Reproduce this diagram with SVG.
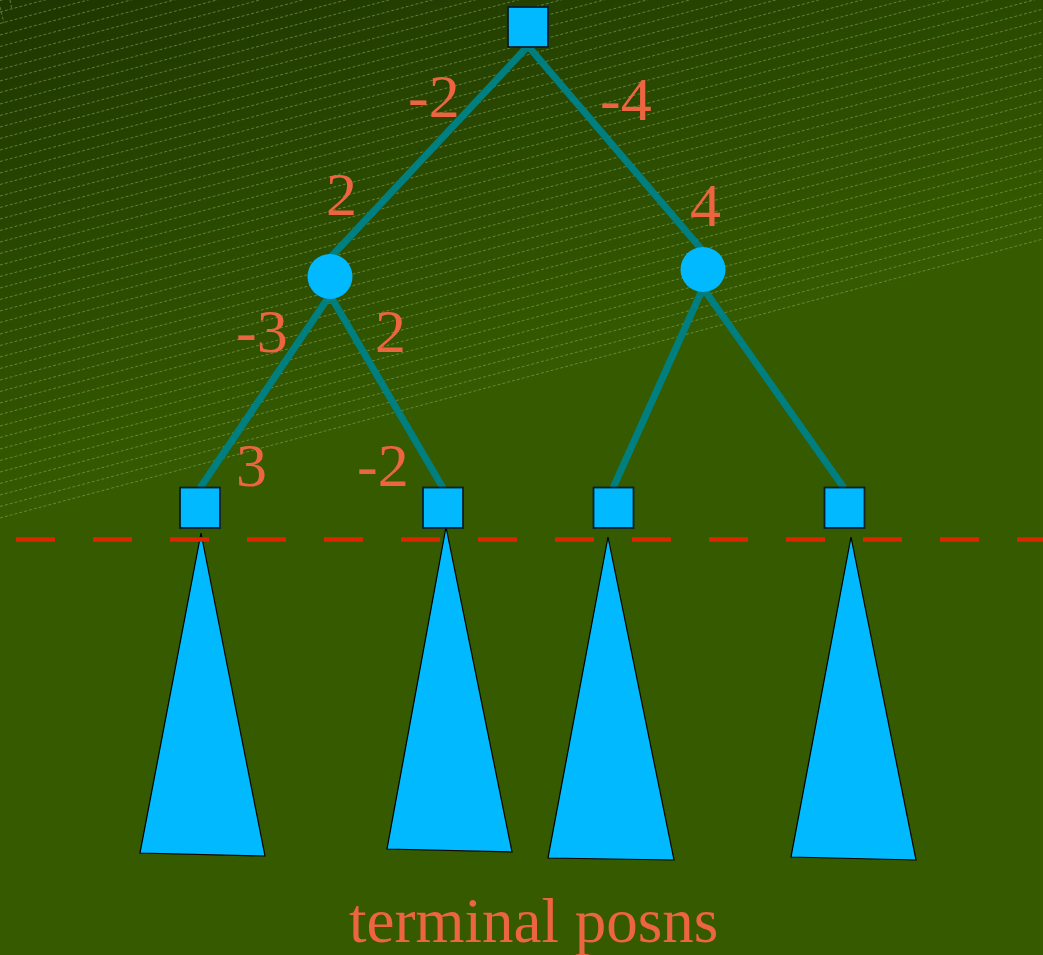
<svg xmlns="http://www.w3.org/2000/svg" width="1043" height="955" viewBox="0 0 1043 955">
<defs>
<linearGradient id="bg" gradientUnits="userSpaceOnUse" x1="0" y1="0" x2="129" y2="483">
<stop offset="0" stop-color="#1e3600"/>
<stop offset="1" stop-color="#355a00"/>
</linearGradient>
<clipPath id="hclip"><polygon points="0,0 1043,0 1043,240 0,519"/></clipPath>
</defs>
<style>
.hatch{stroke:#86a85c;stroke-width:1;stroke-dasharray:3 2;fill:none;opacity:0.6}
.edge{stroke:#007f80;stroke-width:7;fill:none}
.sq{fill:#00b9ff;stroke:#06202c;stroke-width:1.8}
.circ{fill:#00b9ff}
.tri{fill:#00b9ff;stroke:#000;stroke-width:1.2}
.lbl{font-family:"Liberation Serif","Times New Roman",serif;font-size:62px;fill:#ec6440}
</style>
<rect id="background" x="0" y="0" width="1043" height="955" fill="url(#bg)"/>
<g id="hatching" class="hatch" clip-path="url(#hclip)">
<path d="M0,518L1043,239M0,506.5L1043,227.5M0,495L1043,216M0,483.5L1043,204.5M0,472L1043,193M0,460.5L1043,181.5M0,449L1043,170M0,437.5L1043,158.5M0,426L1043,147M0,414.5L1043,135.5M0,403L1043,124M0,391.5L1043,112.5M0,380L1043,101M0,368.5L1043,89.5M0,357L1043,78M0,345.5L1043,66.5M0,334L1043,55M0,322.5L1043,43.5M0,311L1043,32M0,299.5L1043,20.5M0,288L1043,9M0,276.5L1043,-2.5M0,265L1043,-14M0,253.5L1043,-25.5M0,242L1043,-37M0,230.5L1043,-48.5M0,219L1043,-60M0,207.5L1043,-71.5M0,196L1043,-83M0,184.5L1043,-94.5M0,173L1043,-106M0,161.5L1043,-117.5M0,150L1043,-129M0,138.5L1043,-140.5M0,127L1043,-152M0,115.5L1043,-163.5M0,104L1043,-175M0,92.5L1043,-186.5M0,81L1043,-198M0,69.5L1043,-209.5M0,58L1043,-221M0,46.5L1043,-232.5M0,35L1043,-244M0,23.5L1043,-255.5M0,12L1043,-267M0,0.5L1043,-278.5"/>
<path d="M10,0L12,10M0,7L4,23"/>
</g>
<g id="subtrees">
<polygon class="tri" points="201,533 140,853 265,856"/>
<polygon class="tri" points="446,527 387,849 512,852"/>
<polygon class="tri" points="608,537 548,858 674,860"/>
<polygon class="tri" points="851,537 791,857 916,860"/>
</g>
<line id="horizon" x1="16" y1="539.5" x2="1043" y2="539.5" stroke="#dc2600" stroke-width="4.5" stroke-dasharray="39 38"/>
<g id="connectors">
<line class="edge" x1="528" y1="46" x2="330" y2="258"/>
<line class="edge" x1="528" y1="46" x2="703" y2="251"/>
<line class="edge" x1="330" y1="295" x2="200" y2="488"/>
<line class="edge" x1="330" y1="295" x2="443" y2="488"/>
<line class="edge" x1="703" y1="288" x2="613" y2="488"/>
<line class="edge" x1="703" y1="288" x2="844" y2="488"/>
</g>
<g id="root"><rect class="sq" x="508" y="7" width="40" height="40"/></g>
<g id="minL"><circle class="circ" cx="330" cy="276.5" r="22.5"/></g>
<g id="minR"><circle class="circ" cx="703" cy="269.5" r="22.5"/></g>
<g id="leaf1"><rect class="sq" x="180" y="487.5" width="40" height="40.5"/></g>
<g id="leaf2"><rect class="sq" x="423" y="487.5" width="40" height="40.5"/></g>
<g id="leaf3"><rect class="sq" x="593.5" y="487.5" width="40" height="40.5"/></g>
<g id="leaf4"><rect class="sq" x="824.5" y="487.5" width="40" height="40.5"/></g>
<g id="labels" class="lbl">
<text x="408" y="117">-2</text>
<text x="600" y="120">-4</text>
<text x="326" y="215">2</text>
<text x="690" y="226">4</text>
<text x="236" y="352">-3</text>
<text x="375" y="352">2</text>
<text x="236" y="486">3</text>
<text x="357" y="486">-2</text>
<text x="349" y="942" style="font-size:63px">terminal posns</text>
</g>
</svg>
